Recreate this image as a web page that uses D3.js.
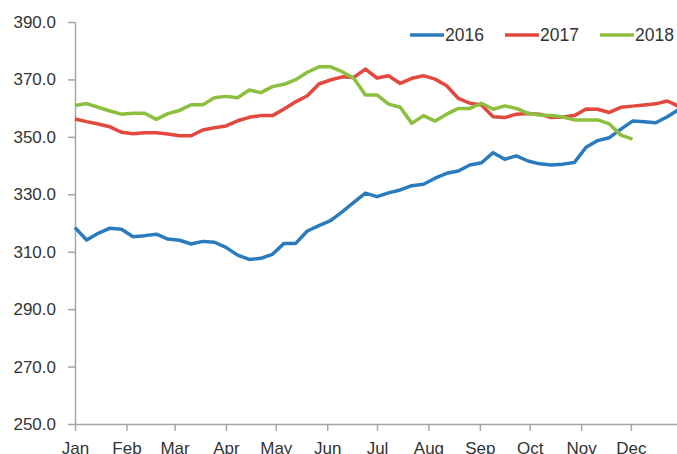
<!DOCTYPE html>
<html lang="en">
    <head>
        <title>Weekly 2016-2018</title>
        <script src="https://cdnjs.cloudflare.com/ajax/libs/d3/7.8.5/d3.min.js"></script>
        <style>
          body { margin: 0; background: #fff; }
          svg { display: block; font-family: "Liberation Sans", Arial, sans-serif; }
        </style>
    </head>
    <body>
        <div id="graph"></div>
        <script>
    // weekly readings, week 0 = first week of January
    const years = ['2016', '2017', '2018'];
    const colors = ['#2a7bbd', '#e2483d', '#8cbf3e'];

    const values2016 = [
      318.4, 314.1, 316.4, 318.2, 317.8, 315.2, 315.6, 316.1, 314.4, 314.0,
      312.7, 313.6, 313.3, 311.5, 308.8, 307.3, 307.7, 309.1, 312.9, 312.9,
      317.2, 319.1, 320.8, 323.9, 327.2, 330.4, 329.2, 330.5, 331.5, 333.0,
      333.5, 335.6, 337.3, 338.1, 340.2, 341.0, 344.5, 342.2, 343.4, 341.6,
      340.6, 340.2, 340.5, 341.1, 346.4, 348.7, 349.7, 352.7, 355.5, 355.3,
      354.9, 357.0, 359.6
    ];
    const values2017 = [
      356.2, 355.3, 354.5, 353.5, 351.6, 351.1, 351.4, 351.4, 351.0, 350.4,
      350.4, 352.4, 353.2, 353.8, 355.6, 356.8, 357.4, 357.4, 359.7, 362.2,
      364.3, 368.4, 369.8, 370.9, 370.7, 373.6, 370.5, 371.3, 368.6, 370.4,
      371.3, 370.1, 367.8, 363.4, 361.7, 361.1, 357.0, 356.7, 357.9, 358.1,
      357.9, 356.7, 356.9, 357.4, 359.7, 359.6, 358.5, 360.3, 360.7, 361.1,
      361.5, 362.5, 360.6
    ];
    const values2018 = [
      360.9, 361.6, 360.3, 359.0, 357.9, 358.2, 358.2, 356.1, 358.1, 359.2,
      361.2, 361.2, 363.6, 364.1, 363.6, 366.3, 365.4, 367.5, 368.3, 369.9,
      372.5, 374.4, 374.4, 372.7, 370.4, 364.6, 364.6, 361.4, 360.3, 354.7,
      357.4, 355.5, 357.9, 359.9, 359.9, 361.7, 359.6, 360.8, 359.9, 358.2,
      357.6, 357.4, 356.9, 355.9, 355.9, 355.9, 354.5, 350.6, 349.2
    ];
    const yTicks = [250, 270, 290, 310, 330, 350, 370, 390];
    const monthLabels = ['Jan', 'Feb', 'Mar', 'Apr', 'May', 'Jun',
                         'Jul', 'Aug', 'Sep', 'Oct', 'Nov', 'Dec'];

    const w = 677;
    const h = 454;
    const plotLeft = 75, plotTop = 22, plotBottom = 424, plotRight = 679;

    const start = new Date(Date.UTC(2016, 0, 1));
    const weekDate = i => d3.utcDay.offset(start, i * 7);

    const x = d3.scaleUtc()
      .domain([start, weekDate(52)])
      .range([plotLeft, plotRight]);
    const y = d3.scaleLinear()
      .domain([250, 390])
      .range([plotBottom, plotTop]);

    const svg = d3.select('#graph')
      .append('svg')
        .attr('width', w)
        .attr('height', h);

    // y axis
    const yAxis = svg.append('g')
      .attr('transform', 'translate(' + plotLeft + ',0)')
      .call(d3.axisLeft(y).tickValues(yTicks).tickFormat(d3.format('.1f'))
        .tickSize(7).tickPadding(12));

    // x axis, one tick per month start
    const monthStarts = d3.utcMonths(start, d3.utcDay.offset(start, 366));
    const xAxis = svg.append('g')
      .attr('transform', 'translate(0,' + plotBottom + ')')
      .call(d3.axisBottom(x).tickValues(monthStarts)
        .tickFormat((d, i) => monthLabels[i])
        .tickSize(7).tickPadding(10));
    xAxis.selectAll('text').attr('dy', '0.71em').attr('y', 18);

    [yAxis, xAxis].forEach(a => {
      a.select('.domain').attr('stroke', '#a6a6a6').attr('stroke-width', 1.5);
      a.selectAll('.tick line').attr('stroke', '#a6a6a6').attr('stroke-width', 1.5);
      a.selectAll('text')
        .attr('font-size', '17px')
        .attr('fill', '#333')
        .attr('font-family', '"Liberation Sans", Arial, sans-serif');
    });
    xAxis.select('.domain').attr('d', 'M' + plotLeft + ',0.5H' + plotRight);
    yAxis.select('.domain').attr('d', 'M0.5,' + plotBottom + 'V' + plotTop);

    const line = d3.line()
      .x((d, i) => x(weekDate(i)))
      .y(d => y(d));

    const series = [values2016, values2017, values2018];
    svg.selectAll('.series')
      .data(series)
      .enter()
      .append('path')
        .attr('class', 'series')
        .attr('d', d => line(d))
        .attr('fill', 'none')
        .attr('stroke', (d, i) => colors[i])
        .attr('stroke-width', 3.5)
        .attr('stroke-linejoin', 'round');

    // legend
    const legend = svg.selectAll('.legend-item')
      .data(years)
      .enter()
      .append('g')
        .attr('class', 'legend-item')
        .attr('transform', (d, i) => 'translate(' + (410 + i * 95) + ',35)');

    legend.append('line')
      .attr('x1', 0)
      .attr('x2', 34)
      .attr('stroke', (d, i) => colors[i])
      .attr('stroke-width', 3.5);

    legend.append('text')
      .attr('x', 35)
      .attr('dy', '0.35em')
      .attr('font-size', '17.5px')
      .attr('fill', '#333')
      .text(d => d);
        </script>
    </body>
</html>
